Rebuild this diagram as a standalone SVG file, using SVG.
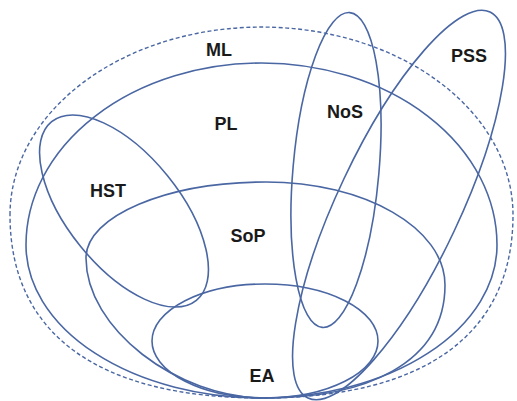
<svg xmlns="http://www.w3.org/2000/svg" width="517" height="401" viewBox="0 0 517 401">
<style>
.s{fill:none;stroke:#4a67a3;stroke-width:1.6}
.d{stroke-dasharray:4 2.5;stroke-width:1.4}
.t{font-family:"Liberation Sans",Arial,sans-serif;font-weight:bold;font-size:18px;fill:#1a1a1a;text-anchor:middle}
</style>
<rect width="517" height="401" fill="#ffffff"/>
<g id="ML"><path class="s d" d="M10,215 A251.5,188 0 0 1 513,215 C513,334 425,398 262,398 C98,398 10,334 10,215 Z"/><text class="t" x="219" y="56">ML</text></g>
<g id="PL"><path class="s" d="M26,245 A235.5,182 0 0 1 497,245 A235.5,153 0 0 1 261.5,398 A235.5,153 0 0 1 26,245 Z"/><text class="t" x="226" y="130">PL</text></g>
<g id="SoP"><path class="s" d="M86,258 C86,216 167,182 266,182 C364.5,182 445,228 445,285 C445,364 364.5,398 266,398 C176,398 86,328 86,258 Z"/><text class="t" x="248" y="242">SoP</text></g>
<g id="EA"><ellipse class="s" cx="265" cy="341" rx="113" ry="57"/><text class="t" x="262" y="382">EA</text></g>
<g id="HST"><ellipse class="s" cx="124" cy="211" rx="115" ry="56" transform="rotate(51 124 211)"/><text class="t" x="108" y="197">HST</text></g>
<g id="NoS"><ellipse class="s" cx="336" cy="170" rx="43" ry="158" transform="rotate(5 336 170)"/><text class="t" x="345" y="118">NoS</text></g>
<g id="PSS"><ellipse class="s" cx="399" cy="205" rx="61" ry="213.4" transform="rotate(25.25 399 205)"/><text class="t" x="469" y="62">PSS</text></g>
</svg>
